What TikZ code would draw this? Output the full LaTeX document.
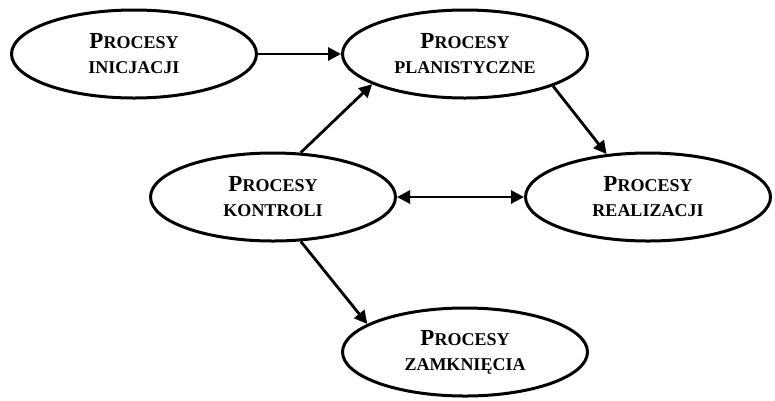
\documentclass[tikz,border=0pt]{standalone}
\usepackage{fontspec}
\setmainfont{Liberation Serif}
\usetikzlibrary{shapes.geometric,arrows.meta}
\tikzset{
  proc/.style={ellipse, draw=black, line width=3pt, minimum width=245pt, minimum height=88pt,
    inner sep=0pt, align=center, font=\bfseries\fontsize{18}{25}\selectfont},
  conn/.style={line width=2.8pt, -{Triangle[length=13pt,width=13pt]}},
  bconn/.style={line width=2.8pt, {Triangle[length=13pt,width=13pt]}-{Triangle[length=13pt,width=13pt]}}
}
\newcommand{\bigP}{{\fontsize{23}{25}\selectfont P}}
\begin{document}
\begin{tikzpicture}[x=1pt,y=-1pt]
\useasboundingbox (0,0) rectangle (775,400);
\node[proc] (ini) at (134,54) {\bigP ROCESY\\INICJACJI};
\node[proc] (pla) at (465,54) {\bigP ROCESY\\PLANISTYCZNE};
\node[proc] (kon) at (273,197) {\bigP ROCESY\\KONTROLI};
\node[proc] (rea) at (648,197) {\bigP ROCESY\\REALIZACJI};
\node[proc] (zam) at (465,352) {\bigP ROCESY\\ZAMKNIĘCIA};
\draw[conn] (ini.east) -- (pla.west);
\draw[conn] (kon.58) -- (pla.198);
\draw[conn] (pla.340) -- (rea.134);
\draw[bconn] (kon.east) -- (rea.west);
\draw[conn] (kon.302) -- (zam.164);
\end{tikzpicture}
\end{document}
